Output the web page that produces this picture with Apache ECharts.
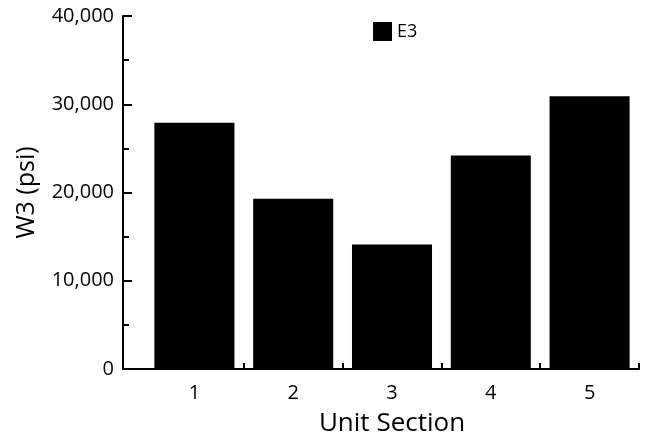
<!DOCTYPE html>
<html>
<head>
<meta charset="utf-8">
<script src="https://cdn.jsdelivr.net/npm/echarts@6/dist/echarts.min.js"></script>
<style>
html,body{margin:0;padding:0;background:#fff;}
#chart{width:655px;height:443px;}
</style>
</head>
<body>
<div id="chart"></div>
<script>
const categories = ['1', '2', '3', '4', '5'];
const seriesName = 'E3';
const values = [27900, 19300, 14100, 24200, 30900];
const yMin = 0, yMax = 40000, yStep = 10000;

const FONT = 'Open Sans';
const chart = echarts.init(document.getElementById('chart'), null, {renderer: 'canvas'});
const gridTop = 16, gridBottom = 74, gridRight = 16;
chart.setOption({
  animation: false,
  backgroundColor: '#fff',
  textStyle: {fontFamily: FONT, color: '#000'},
  legend: {
    data: [seriesName],
    left: 368, top: 17,
    itemWidth: 19, itemHeight: 19, itemGap: 6,
    icon: 'rect',
    textStyle: {fontFamily: FONT, fontSize: 18, color: '#000'}
  },
  grid: [
    {left: 145, right: gridRight, top: gridTop, bottom: gridBottom},
    {left: 123, right: gridRight, top: gridTop, bottom: gridBottom}
  ],
  xAxis: [
    {
      type: 'category', gridIndex: 0, data: categories,
      axisLine: {show: false},
      axisTick: {show: true, inside: true, length: 6, lineStyle: {color: '#000', width: 2},
        interval: (i) => i !== 0},
      axisLabel: {fontFamily: FONT, fontSize: 20, color: '#000', margin: 14},
      name: 'Unit Section', nameLocation: 'middle', nameGap: 42,
      nameTextStyle: {fontFamily: FONT, fontSize: 26, color: '#000'}
    },
    {
      type: 'value', gridIndex: 1, min: 0, max: 1,
      axisLine: {show: true, lineStyle: {color: '#000', width: 2}},
      axisTick: {show: false}, axisLabel: {show: false}, splitLine: {show: false}
    }
  ],
  yAxis: [
    {
      type: 'value', gridIndex: 0, min: yMin, max: yMax, interval: yStep,
      show: false, splitLine: {show: false}
    },
    {
      type: 'value', gridIndex: 1, min: yMin, max: yMax, interval: yStep,
      axisLine: {show: true, lineStyle: {color: '#000', width: 2}},
      axisTick: {show: true, inside: true, length: 9, lineStyle: {color: '#000', width: 2}},
      minorTick: {show: true, splitNumber: 2, length: 6, lineStyle: {color: '#000', width: 2}},
      splitLine: {show: false},
      axisLabel: {fontFamily: FONT, fontSize: 20, color: '#000', margin: 9,
        formatter: v => v.toLocaleString('en-US')},
      name: 'W3 (psi)', nameLocation: 'middle', nameGap: 84, nameRotate: 90,
      nameTextStyle: {fontFamily: FONT, fontSize: 25, color: '#000'}
    }
  ],
  series: [{
    name: seriesName, type: 'bar', xAxisIndex: 0, yAxisIndex: 0,
    data: values, barCategoryGap: '19%',
    itemStyle: {color: '#000'}
  }]
});
</script>
</body>
</html>
